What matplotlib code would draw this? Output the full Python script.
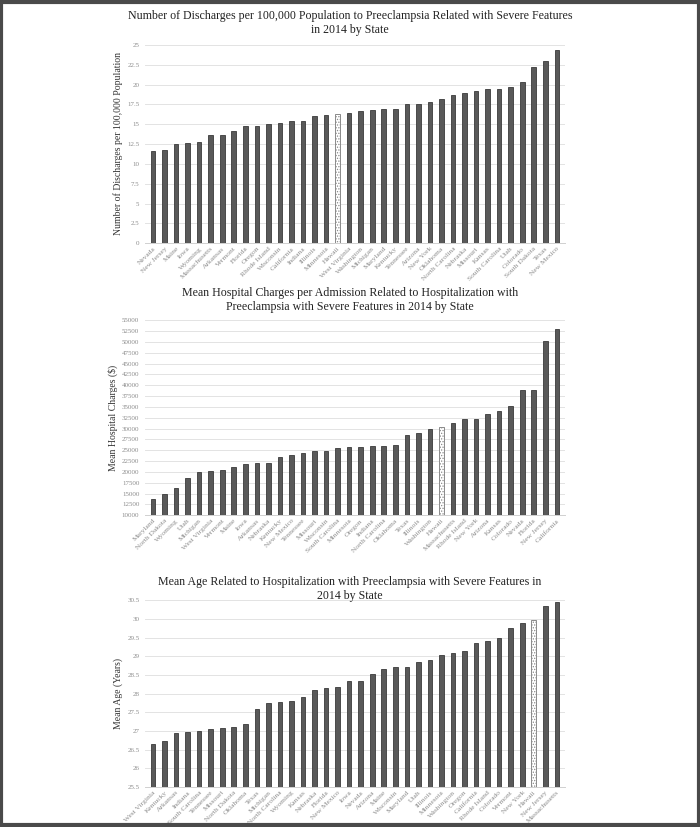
import matplotlib
matplotlib.use('Agg')
import matplotlib.pyplot as plt
from matplotlib.patches import Rectangle
import numpy as np

plt.rcParams['font.family'] = ['Liberation Serif', 'DejaVu Serif']
plt.rcParams['hatch.linewidth'] = 0.6

# ---- panel 1: discharges per 100,000 population ----
states_1 = ['Nevada', 'New Jersey', 'Maine', 'Iowa', 'Wyoming', 'Massachusetts',
            'Arkansas', 'Vermont', 'Florida', 'Oregon', 'Rhode Island', 'Wisconsin',
            'California', 'Indiana', 'Illinois', 'Minnesota', 'Hawaii', 'West Virginia',
            'Washington', 'Michigan', 'Maryland', 'Kentucky', 'Tennessee', 'Arizona',
            'New York', 'Oklahoma', 'North Carolina', 'Nebraska', 'Missouri', 'Kansas',
            'South Carolina', 'Utah', 'Colorado', 'South Dakota', 'Texas', 'New Mexico']
values_1 = [11.6, 11.7, 12.5, 12.6, 12.8, 13.6, 13.6, 14.1, 14.8, 14.8, 15.0, 15.1,
            15.4, 15.4, 16.1, 16.2, 16.3, 16.4, 16.7, 16.8, 16.9, 16.9, 17.5, 17.6,
            17.8, 18.2, 18.7, 19.0, 19.2, 19.4, 19.5, 19.7, 20.4, 22.2, 23.0, 24.4]

# ---- panel 2: mean hospital charges ----
states_2 = ['Maryland', 'North Dakota', 'Wyoming', 'Utah', 'Michigan', 'West Virginia',
            'Vermont', 'Maine', 'Iowa', 'Arkansas', 'Nebraska', 'Kentucky',
            'New Mexico', 'Tennessee', 'Missouri', 'Wisconsin', 'South Carolina', 'Minnesota',
            'Oregon', 'Indiana', 'North Carolina', 'Oklahoma', 'Texas', 'Illinois',
            'Washington', 'Hawaii', 'Massachusetts', 'Rhode Island', 'New York', 'Arizona',
            'Kansas', 'Colorado', 'Nevada', 'Florida', 'New Jersey', 'California']
values_2 = [13800, 14900, 16300, 18700, 20000, 20200, 20500, 21100, 21900, 22100,
            22100, 23500, 23800, 24400, 24800, 24900, 25600, 25700, 25800, 25900,
            26000, 26300, 28500, 29000, 30000, 30300, 31200, 32200, 32300, 33400,
            34000, 35300, 38900, 39000, 50200, 52900]

# ---- panel 3: mean age ----
states_3 = ['West Virginia', 'Kentucky', 'Arkansas', 'Indiana', 'South Carolina', 'Tennessee',
            'Missouri', 'North Dakota', 'Oklahoma', 'Texas', 'Michigan', 'North Carolina',
            'Wyoming', 'Kansas', 'Nebraska', 'Florida', 'New Mexico', 'Iowa',
            'Nevada', 'Arizona', 'Maine', 'Wisconsin', 'Maryland', 'Utah',
            'Illinois', 'Minnesota', 'Washington', 'Oregon', 'California', 'Rhode Island',
            'Colorado', 'Vermont', 'New York', 'Hawaii', 'New Jersey', 'Massachusetts']
values_3 = [26.65, 26.72, 26.95, 26.98, 27.0, 27.05, 27.08, 27.1, 27.18, 27.6, 27.75, 27.78,
            27.8, 27.9, 28.1, 28.15, 28.18, 28.33, 28.35, 28.52, 28.65, 28.72, 28.72, 28.85,
            28.9, 29.05, 29.1, 29.15, 29.35, 29.4, 29.5, 29.75, 29.9, 29.98, 30.35, 30.45]

HIGHLIGHT = 'Hawaii'
BAR = '#595959'
EDGE = '#3a3a3a'
GRID = '#e3e3e3'
TICK = '#8c8c8c'

panels = [
    dict(states=states_1, values=values_1,
         title='Number of Discharges per 100,000 Population to Preeclampsia Related with Severe Features\nin 2014 by State',
         ylabel='Number of Discharges per 100,000 Population',
         ylim=(0, 25), step=2.5, fmt=lambda v: f'{v:g}',
         rect=[0.207, 0.706, 0.600, 0.240], title_y=0.988),
    dict(states=states_2, values=values_2,
         title='Mean Hospital Charges per Admission Related to Hospitalization with\nPreeclampsia with Severe Features in 2014 by State',
         ylabel='Mean Hospital Charges ($)',
         ylim=(10000, 55000), step=2500, fmt=lambda v: f'{v:.0f}',
         rect=[0.207, 0.377, 0.600, 0.236], title_y=0.653),
    dict(states=states_3, values=values_3,
         title='Mean Age Related to Hospitalization with Preeclampsia with Severe Features in\n2014 by State',
         ylabel='Mean Age (Years)',
         ylim=(25.5, 30.5), step=0.5, fmt=lambda v: f'{v:g}',
         rect=[0.207, 0.0484, 0.600, 0.226], title_y=0.304),
]

fig = plt.figure(figsize=(7, 8.27), dpi=100, facecolor='white')

for p in panels:
    ax = fig.add_axes(p['rect'])
    x = np.arange(len(p['states']))
    base = p['ylim'][0]
    for xi, st, v in zip(x, p['states'], p['values']):
        if st == HIGHLIGHT:
            ax.bar(xi, v - base, bottom=base, width=0.4, color='white',
                   edgecolor='#8a8a8a', hatch='......', linewidth=0.7, zorder=3)
        else:
            ax.bar(xi, v - base, bottom=base, width=0.4, color=BAR,
                   edgecolor=EDGE, linewidth=0.6, zorder=3)
    lo, hi = p['ylim']
    ticks = np.arange(lo, hi + p['step'] / 2, p['step'])
    ax.set_yticks(ticks)
    ax.set_yticklabels([p['fmt'](t) for t in ticks])
    ax.set_ylim(lo, hi + p['step'] * 0.02)
    ax.set_xlim(-0.7, len(x) - 0.3)
    ax.set_xticks(x)
    ax.set_xticklabels(p['states'], rotation=45, ha='right', rotation_mode='anchor')
    ax.tick_params(axis='x', labelsize=5.4, colors=TICK, length=0, pad=2)
    ax.tick_params(axis='y', labelsize=5, colors=TICK, length=0, pad=4)
    ax.grid(True, axis='y', color=GRID, linewidth=0.7, zorder=0)
    for side in ['top', 'right', 'left']:
        ax.spines[side].set_visible(False)
    ax.spines['bottom'].set_color('#d0d0d0')
    ax.spines['bottom'].set_linewidth(0.7)
    ax.set_ylabel(p['ylabel'], fontsize=7, color='#333333', labelpad=3)
    fig.text(0.5, p['title_y'], p['title'], ha='center', va='top',
             fontsize=8.6, color='#222222', linespacing=1.25)

# outer dark frame around the picture
fig.patches.append(Rectangle((0.002, 0.002), 0.996, 0.996, transform=fig.transFigure,
                             fill=False, edgecolor='#4a4a4a', linewidth=3))

fig.savefig('out.png', dpi=100, facecolor='white')
